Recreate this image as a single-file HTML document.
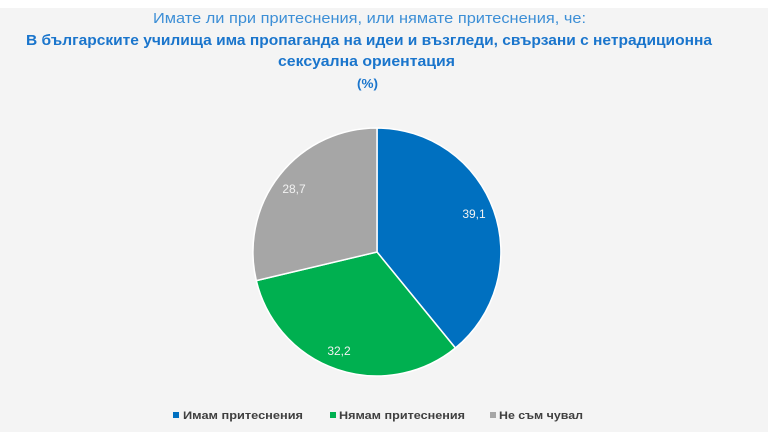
<!DOCTYPE html>
<html>
<head>
<meta charset="utf-8">
<style>
  html, body { margin:0; padding:0; }
  body { width:768px; height:432px; overflow:hidden; background:#f4f4f4; }
  svg { display:block; }
</style>
</head>
<body>
<svg width="768" height="432" viewBox="0 0 768 432" xmlns="http://www.w3.org/2000/svg">
  <rect x="0" y="0" width="768" height="432" fill="#f4f4f4"/>
  <rect x="0" y="0" width="768" height="8" fill="#ffffff"/>

  <g font-family="'Liberation Sans', 'DejaVu Sans', sans-serif" text-anchor="start">
    <text x="153" y="23" font-size="15" fill="#3d8fd6" textLength="433" lengthAdjust="spacingAndGlyphs">Имате ли при притеснения, или нямате притеснения, че:</text>
    <text x="26" y="45" font-size="15" font-weight="bold" fill="#1a75cc" textLength="686" lengthAdjust="spacingAndGlyphs">В българските училища има пропаганда на идеи и възгледи, свързани с нетрадиционна</text>
    <text x="278" y="66" font-size="15" font-weight="bold" fill="#1a75cc" textLength="177" lengthAdjust="spacingAndGlyphs">сексуална ориентация</text>
    <text x="357" y="88" font-size="13" font-weight="bold" fill="#1a75cc" textLength="21" lengthAdjust="spacingAndGlyphs">(%)</text>
  </g>

  <!-- Pie -->
  <g stroke="#ffffff" stroke-width="1.5" stroke-linejoin="round">
    <path d="M377,252 L377,128 A124,124 0 0 1 455.4,348.0 Z" fill="#0070c0"/>
    <path d="M377,252 L455.4,348.0 A124,124 0 0 1 256.3,280.6 Z" fill="#00b050"/>
    <path d="M377,252 L256.3,280.6 A124,124 0 0 1 377,128 Z" fill="#a6a6a6"/>
  </g>

  <g font-family="'Liberation Sans', 'DejaVu Sans', sans-serif" font-size="12" fill="#f2f2f2" text-anchor="middle">
    <text x="474" y="218">39,1</text>
    <text x="339" y="355">32,2</text>
    <text x="294" y="193">28,7</text>
  </g>

  <!-- Legend -->
  <g font-family="'Liberation Sans', 'DejaVu Sans', sans-serif" font-size="11" font-weight="bold" fill="#404040">
    <rect x="173" y="412" width="6" height="6" fill="#0070c0"/>
    <text x="183" y="419" textLength="120" lengthAdjust="spacingAndGlyphs">Имам притеснения</text>
    <rect x="330" y="412" width="6" height="6" fill="#00b050"/>
    <text x="339" y="419" textLength="126" lengthAdjust="spacingAndGlyphs">Нямам притеснения</text>
    <rect x="490" y="412" width="6" height="6" fill="#a6a6a6"/>
    <text x="499" y="419" textLength="84" lengthAdjust="spacingAndGlyphs">Не съм чувал</text>
  </g>
</svg>
</body>
</html>
